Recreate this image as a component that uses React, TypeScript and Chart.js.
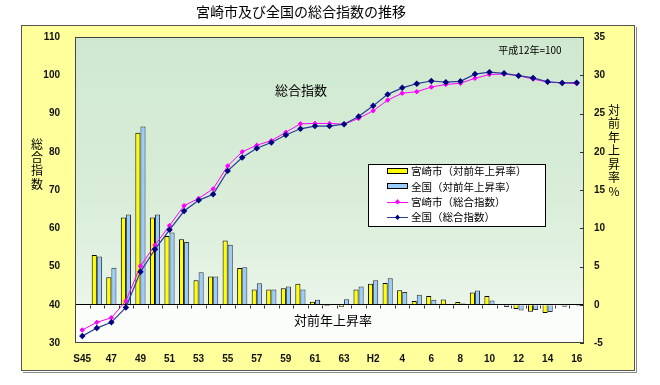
import React, { useEffect, useRef } from 'react';
import { Chart, registerables } from 'chart.js';

Chart.register(...registerables);

const categories = [
  'S45', '46', '47', '48', '49', '50', '51', '52', '53', '54',
  '55', '56', '57', '58', '59', '60', '61', '62', '63', 'H1',
  'H2', '3', '4', '5', '6', '7', '8', '9', '10', '11',
  '12', '13', '14', '15', '16',
];

// 総合指数 (left axis, 平成12年=100)
const miyazakiIndex = [
  33.4, 35.4, 36.6, 41.0, 50.1, 55.6, 60.7, 65.9, 67.8, 70.3,
  76.3, 80.0, 81.7, 82.9, 85.1, 87.3, 87.4, 87.4, 87.2, 88.7,
  90.7, 93.5, 95.3, 95.7, 96.9, 97.6, 97.9, 99.2, 100.2, 100.3,
  99.9, 99.0, 98.2, 98.0, 97.8,
];
const nationalIndex = [
  31.8, 33.9, 35.4, 39.3, 48.6, 54.5, 59.6, 64.5, 67.3, 68.9,
  75.0, 78.5, 80.9, 82.4, 84.4, 86.0, 86.7, 86.7, 87.2, 89.2,
  92.0, 95.0, 96.7, 97.8, 98.5, 98.2, 98.4, 100.3, 100.8, 100.5,
  99.9, 99.3, 98.3, 98.0, 98.05,
];

// 対前年上昇率 (right axis, %)
const miyazakiRate = [
  null, 6.5, 3.6, 11.4, 22.5, 11.4, 9.0, 8.55, 3.2, 3.7,
  8.4, 4.8, 2.0, 2.0, 2.15, 2.75, 0.4, -0.15, -0.26, 2.0,
  2.75, 2.85, 1.9, 0.48, 1.14, 0.68, 0.35, 1.6, 1.15, -0.07,
  -0.55, -0.9, -1.08, -0.1, -0.05,
];
const nationalRate = [
  null, 6.3, 4.85, 11.8, 23.3, 11.8, 9.45, 8.2, 4.25, 3.7,
  7.85, 4.9, 2.8, 2.0, 2.4, 2.0, 0.66, 0.05, 0.72, 2.4,
  3.2, 3.45, 1.67, 1.3, 0.66, -0.08, 0.15, 1.85, 0.55, -0.28,
  -0.75, -0.7, -0.94, -0.26, -0.18,
];

const seriesLabels = [
  '宮崎市（対前年上昇率）',
  '全国（対前年上昇率）',
  '宮崎市（総合指数）',
  '全国（総合指数）',
];

const titleText = '宮崎市及び全国の総合指数の推移';
const leftAxisTitle = '総合指数';
const rightAxisTitle = '対前年上昇率%';
const indexNote = '平成12年=100';
const indexLabel = '総合指数';
const rateLabel = '対前年上昇率';

const leftAxisRange = [30, 110, 10];
const rightAxisRange = [-5, 35, 5];

const JP = '"Noto Sans CJK JP", "Noto Sans", sans-serif';
const NUM = '"Liberation Sans", Arial, sans-serif';

const decorPlugin = {
  id: 'decor',
  beforeDraw(chart: any) {
    const { ctx, chartArea: a, scales } = chart;
    const y0 = scales.y1.getPixelForValue(0);
    ctx.save();
    ctx.fillStyle = '#ffffff';
    ctx.fillRect(0, 0, chart.width, chart.height);
    // outer yellow panel
    ctx.fillStyle = '#FFFF9C';
    ctx.fillRect(21, 25, 614, 346);
    ctx.strokeStyle = '#555';
    ctx.lineWidth = 1;
    ctx.strokeRect(21.5, 25.5, 613, 345);
    ctx.strokeStyle = '#888';
    ctx.beginPath();
    ctx.moveTo(636.5, 27);
    ctx.lineTo(636.5, 372.5);
    ctx.lineTo(23, 372.5);
    ctx.stroke();
    // plot background
    const g = ctx.createLinearGradient(0, a.top, 0, y0);
    g.addColorStop(0, '#CFE8CF');
    g.addColorStop(0.6, '#D9EDD9');
    g.addColorStop(1, '#E9F5E9');
    ctx.fillStyle = g;
    ctx.fillRect(a.left, a.top, a.right - a.left, y0 - a.top);
    ctx.fillStyle = '#FBFDFB';
    ctx.fillRect(a.left, y0, a.right - a.left, a.bottom - y0);
    ctx.restore();
  },
  afterDraw(chart: any) {
    const { ctx, chartArea: a, scales } = chart;
    const x = scales.x;
    const y1 = scales.y1;
    const y0 = Math.round(y1.getPixelForValue(0)) + 0.5;
    ctx.save();
    // plot border
    ctx.strokeStyle = '#444';
    ctx.lineWidth = 1;
    ctx.strokeRect(Math.round(a.left) + 0.5, Math.round(a.top) + 0.5, Math.round(a.right - a.left) - 1, Math.round(a.bottom - a.top) - 1);
    // category tick marks on zero line
    ctx.strokeStyle = '#333';
    ctx.beginPath();
    for (let k = 1; k < categories.length; k++) {
      const bx = Math.round((x.getPixelForValue(k - 1) + x.getPixelForValue(k)) / 2) + 0.5;
      ctx.moveTo(bx, y0);
      ctx.lineTo(bx, y0 + 3);
    }
    ctx.stroke();
    // right axis inner tick marks
    ctx.beginPath();
    y1.ticks.forEach((t: any) => {
      const ty = Math.round(y1.getPixelForValue(t.value)) + 0.5;
      ctx.moveTo(a.right - 4, ty);
      ctx.lineTo(a.right, ty);
    });
    ctx.stroke();

    ctx.fillStyle = '#000';
    ctx.textBaseline = 'middle';
    // title
    ctx.textAlign = 'center';
    ctx.font = `14px ${JP}`;
    ctx.fillText(titleText, 301, 12);
    // vertical axis titles
    ctx.font = `12px ${JP}`;
    Array.from(leftAxisTitle).forEach((ch, i) => ctx.fillText(ch, 37, 144 + i * 13.4));
    Array.from(rightAxisTitle).forEach((ch, i) => ctx.fillText(ch, 614, 110 + i * 13.5));
    // in-plot labels
    ctx.font = `13px ${JP}`;
    ctx.fillText(indexLabel, 301, 90);
    ctx.fillText(rateLabel, 333, 320);
    ctx.font = `10px ${JP}`;
    ctx.fillText(indexNote, 530, 50);

    // legend
    const lx = 368, ly = 164, lw = 177, lh = 62;
    ctx.fillStyle = '#fff';
    ctx.fillRect(lx, ly, lw, lh);
    ctx.strokeStyle = '#000';
    ctx.strokeRect(lx + 0.5, ly + 0.5, lw, lh);
    ctx.font = `10.5px ${JP}`;
    ctx.textAlign = 'left';
    chart.data.datasets.forEach((ds: any, i: number) => {
      const cy = ly + 7 + i * 15.3;
      if (ds.type === 'bar') {
        ctx.fillStyle = ds.backgroundColor;
        ctx.fillRect(387, Math.round(cy) - 3, 21, 6);
        ctx.strokeStyle = '#000';
        ctx.strokeRect(387.5, Math.round(cy) - 2.5, 20, 5);
      } else {
        ctx.strokeStyle = ds.borderColor;
        ctx.lineWidth = 1;
        ctx.beginPath();
        ctx.moveTo(387, Math.round(cy) + 0.5);
        ctx.lineTo(408, Math.round(cy) + 0.5);
        ctx.stroke();
        ctx.fillStyle = ds.pointBackgroundColor;
        ctx.beginPath();
        ctx.moveTo(397.5, cy - 2.5);
        ctx.lineTo(400, cy + 0.5);
        ctx.lineTo(397.5, cy + 3);
        ctx.lineTo(395, cy + 0.5);
        ctx.closePath();
        ctx.fill();
      }
      ctx.fillStyle = '#000';
      ctx.fillText(ds.label, 411, cy + 0.5);
    });
    ctx.restore();
  },
};

export default function App() {
  const ref = useRef<HTMLCanvasElement | null>(null);

  useEffect(() => {
    if (!ref.current) return;
    const tickFont = { family: NUM, size: 10, weight: 'bold' as const };
    const chart = new Chart(ref.current, {
      type: 'bar',
      data: {
        labels: categories,
        datasets: [
          {
            type: 'bar',
            label: seriesLabels[0],
            data: miyazakiRate,
            yAxisID: 'y1',
            backgroundColor: '#FFFF00',
            borderColor: '#000',
            borderWidth: 1,
            categoryPercentage: 0.7,
            barPercentage: 1,
            order: 2,
          },
          {
            type: 'bar',
            label: seriesLabels[1],
            data: nationalRate,
            yAxisID: 'y1',
            backgroundColor: '#99CCFF',
            borderColor: '#333',
            borderWidth: 1,
            categoryPercentage: 0.7,
            barPercentage: 1,
            order: 2,
          },
          {
            type: 'line',
            label: seriesLabels[2],
            data: miyazakiIndex,
            yAxisID: 'y',
            borderColor: '#FF00FF',
            backgroundColor: '#FF00FF',
            pointBackgroundColor: '#FF00FF',
            pointBorderColor: '#FF00FF',
            borderWidth: 1,
            pointStyle: 'rectRot',
            pointRadius: 2.2,
            tension: 0,
            order: 1,
          },
          {
            type: 'line',
            label: seriesLabels[3],
            data: nationalIndex,
            yAxisID: 'y',
            borderColor: '#2A3C96',
            backgroundColor: '#000080',
            pointBackgroundColor: '#000080',
            pointBorderColor: '#000080',
            borderWidth: 1.2,
            pointStyle: 'rectRot',
            pointRadius: 2.4,
            tension: 0,
            order: 0,
          },
        ] as any,
      },
      options: {
        responsive: false,
        animation: false,
        devicePixelRatio: 1,
        layout: { padding: { top: 37, left: 0, right: 0, bottom: 0 } },
        plugins: {
          legend: { display: false },
          title: { display: false },
          tooltip: { enabled: false },
        },
        scales: {
          x: {
            type: 'category',
            grid: { display: false, drawTicks: false },
            border: { display: false },
            ticks: {
              autoSkip: false,
              maxRotation: 0,
              minRotation: 0,
              padding: 10,
              color: '#111',
              font: tickFont,
              callback: (_v: any, i: number) => (i % 2 === 0 ? categories[i] : ''),
            },
            afterFit: (s: any) => { s.height = 42; },
          },
          y: {
            position: 'left',
            min: leftAxisRange[0],
            max: leftAxisRange[1],
            grid: { display: false, drawTicks: false },
            border: { display: false },
            ticks: { stepSize: leftAxisRange[2], padding: 15, color: '#111', font: tickFont },
            afterFit: (s: any) => { s.width = 75; },
          },
          y1: {
            position: 'right',
            min: rightAxisRange[0],
            max: rightAxisRange[1],
            grid: {
              drawTicks: false,
              lineWidth: 1,
              color: (c: any) => (c.tick && c.tick.value === 0 ? '#000' : 'rgba(0,0,0,0)'),
            },
            border: { display: false },
            ticks: { stepSize: rightAxisRange[2], padding: 10, color: '#111', font: tickFont },
            afterFit: (s: any) => { s.width = 76; },
          },
        },
      } as any,
      plugins: [decorPlugin],
    });
    return () => chart.destroy();
  }, []);

  return (
    <div style={{ position: 'absolute', left: 0, top: 0, width: 660, height: 385 }}>
      <canvas ref={ref} width={660} height={385} style={{ display: 'block', width: 660, height: 385 }} />
    </div>
  );
}
